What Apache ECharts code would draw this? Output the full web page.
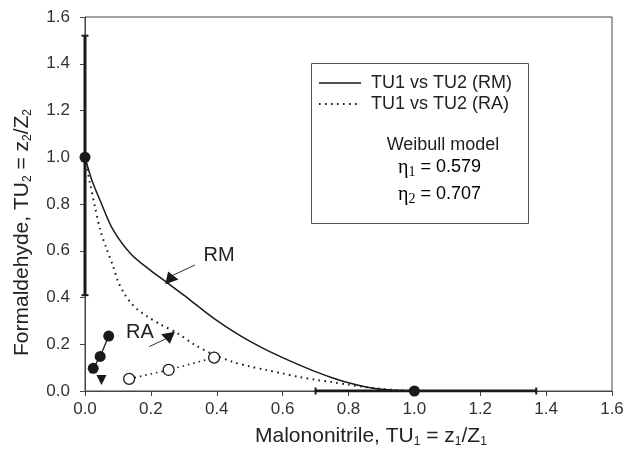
<!DOCTYPE html>
<html>
<head>
<meta charset="utf-8">
<script src="https://cdn.jsdelivr.net/npm/echarts@6/dist/echarts.min.js"></script>
<style>
  html, body { margin: 0; padding: 0; background: #fff; }
  #chart { width: 644px; height: 453px; }
</style>
</head>
<body>
<div id="chart"></div>
<script>
// model curves, TU1 vs TU2
const rmCurve = [[0,1.0],[0.02,0.905],[0.046,0.815],[0.085,0.69],[0.14,0.585],[0.2,0.515],[0.25,0.463],[0.3,0.41],[0.35,0.355],[0.4,0.302],[0.45,0.255],[0.5,0.213],[0.55,0.176],[0.6,0.143],[0.65,0.112],[0.7,0.083],[0.75,0.057],[0.8,0.035],[0.85,0.018],[0.9,0.007],[0.95,0.002],[1.0,0.0]];
const raCurve = [[0,1.0],[0.015,0.89],[0.03,0.79],[0.046,0.69],[0.065,0.61],[0.085,0.535],[0.1,0.47],[0.12,0.415],[0.14,0.376],[0.16,0.348],[0.19,0.318],[0.23,0.284],[0.28,0.248],[0.33,0.2],[0.39,0.156],[0.45,0.124],[0.5,0.105],[0.55,0.09],[0.6,0.075],[0.65,0.06],[0.7,0.048],[0.75,0.038],[0.8,0.027],[0.85,0.017],[0.9,0.009],[0.95,0.003],[1.0,0.0]];
// observed points
const filledPts = [[0.025,0.097],[0.046,0.148],[0.072,0.235]];
const openPts = [[0.134,0.052],[0.254,0.09],[0.392,0.143]];
const singlePts = [[0,1.0],[1.0,0.0]];
const triPts = [[0.05,0.047]];
// error bars
const errV = [[0,0.41],[0,1.52]];
const errH = [[0.70,0],[1.37,0]];
// annotations
const rmArrow = [[0.334,0.539],[0.262,0.492]];
const raArrow = [[0.195,0.19],[0.244,0.222]];
const rmHead = [[0.258,0.489]];
const raHead = [[0.255,0.225]];
const labels = [{ name: 'RM', value: [0.407,0.578] }, { name: 'RA', value: [0.167,0.25] }];
const legendNames = ['TU1 vs TU2 (RM)', 'TU1 vs TU2 (RA)'];

const ink = '#1a1a1a';
const font = 'Liberation Sans, Arial, sans-serif';

let chart = echarts.init(document.getElementById('chart'));

function plain(name, data, extra) {
  return Object.assign({
    name: name, type: 'line', data: data, symbol: 'none', silent: true,
    lineStyle: { color: ink, width: 1.3 }, itemStyle: { color: ink }, z: 3
  }, extra || {});
}
function marks(data, symbol, size, rot) {
  return { type: 'scatter', data: data, symbol: symbol, symbolSize: size, symbolRotate: rot || 0,
    itemStyle: { color: ink, opacity: 1 }, z: 5, silent: true };
}

const etaRich = {
  e: { fontFamily: 'Liberation Serif, serif', fontSize: 20, color: '#222' },
  s: { fontFamily: 'Liberation Serif, serif', fontSize: 14, padding: [9, 0, 0, 0], color: '#222' },
  t: { fontFamily: font, fontSize: 18, color: '#222' }
};
const subRich = { s: { fontSize: 12, padding: [11, 0, 0, 0], fontFamily: font, color: '#222' } };

let option = {
  animation: false,
  backgroundColor: '#fff',
  grid: { left: 85, right: 32, top: 17, bottom: 62, show: true, borderColor: '#444', borderWidth: 1 },
  xAxis: {
    type: 'value', min: 0, max: 1.6, interval: 0.2,
    axisLine: { lineStyle: { color: '#444' } },
    axisTick: { length: 5, lineStyle: { color: '#444' } },
    axisLabel: { color: '#333', fontSize: 17, fontFamily: font, margin: 10, formatter: v => v.toFixed(1) },
    splitLine: { show: false }
  },
  yAxis: {
    type: 'value', min: 0, max: 1.6, interval: 0.2,
    axisLine: { show: true, lineStyle: { color: '#444' } },
    axisTick: { show: true, length: 5, lineStyle: { color: '#444' } },
    axisLabel: { color: '#333', fontSize: 17, fontFamily: font, margin: 15, formatter: v => v.toFixed(1) },
    splitLine: { show: false }
  },
  series: [
    plain(legendNames[0], rmCurve, { smooth: 0.3, lineStyle: { color: ink, width: 1.5 } }),
    plain(legendNames[1], raCurve, { smooth: 0.3, lineStyle: { color: ink, width: 2, type: [1.6, 4.4] } }),
    plain('errV', errV, { symbol: 'rect', symbolSize: [7, 2], showSymbol: true, lineStyle: { color: ink, width: 3 } }),
    plain('errH', errH, { symbol: 'rect', symbolSize: [2, 7], showSymbol: true, lineStyle: { color: ink, width: 3 } }),
    plain('mix', filledPts, { symbol: 'circle', symbolSize: 11, showSymbol: true, lineStyle: { color: ink, width: 1.3 } }),
    plain('mixRA', openPts, { symbol: 'circle', symbolSize: 11, showSymbol: true,
      itemStyle: { color: '#fff', borderColor: ink, borderWidth: 1.3 },
      lineStyle: { color: ink, width: 1.6, type: [1.5, 4] } }),
    marks(singlePts, 'circle', 11),
    marks(triPts, 'triangle', [10, 10], 180),
    plain('rmArrow', rmArrow, { lineStyle: { color: '#333', width: 1 } }),
    plain('raArrow', raArrow, { lineStyle: { color: '#333', width: 1 } }),
    marks(rmHead, 'triangle', [14, 11], 20),
    marks(raHead, 'triangle', [14, 11], 190),
    { type: 'scatter', data: labels, symbolSize: 1, itemStyle: { color: '#fff', opacity: 0 }, silent: true,
      label: { show: true, position: 'inside', formatter: p => p.name, color: '#222', opacity: 1,
        textBorderWidth: 0, fontSize: 20, fontFamily: font } }
  ],
  graphic: [
    // legend box
    { type: 'rect', left: 309, top: 61, shape: { width: 217, height: 160 }, style: { fill: 'none', stroke: '#555', lineWidth: 1 }, z: 1 },
    { type: 'line', shape: { x1: 319, y1: 83, x2: 361, y2: 83 }, style: { stroke: ink, lineWidth: 1.5 } },
    { type: 'line', shape: { x1: 319, y1: 104, x2: 361, y2: 104 }, style: { stroke: ink, lineWidth: 2, lineDash: [1.6, 4.4] } },
    { type: 'text', x: 371, y: 74, style: { text: legendNames[0], font: '18px ' + font, fill: '#222' } },
    { type: 'text', x: 371, y: 95, style: { text: legendNames[1], font: '18px ' + font, fill: '#222' } },
    { type: 'text', x: 443, y: 136, style: { text: 'Weibull model', font: '18px ' + font, fill: '#222', align: 'center' } },
    { type: 'text', x: 398, y: 156, style: { text: '{e|η}{s|1}{t| = 0.579}', rich: etaRich } },
    { type: 'text', x: 398, y: 183, style: { text: '{e|η}{s|2}{t| = 0.707}', rich: etaRich } },
    // axis titles
    { type: 'text', x: 255, y: 425, style: {
      text: 'Malononitrile, TU{s|1} = z{s|1}/Z{s|1}', rich: subRich, font: '21px ' + font, fill: '#222' } },
    { type: 'text', x: 11, y: 356, rotation: Math.PI / 2, style: {
      text: 'Formaldehyde, TU{s|2} = z{s|2}/Z{s|2}', rich: subRich, font: '21px ' + font, fill: '#222' } }
  ]
};

chart.setOption(option);
</script>
</body>
</html>
